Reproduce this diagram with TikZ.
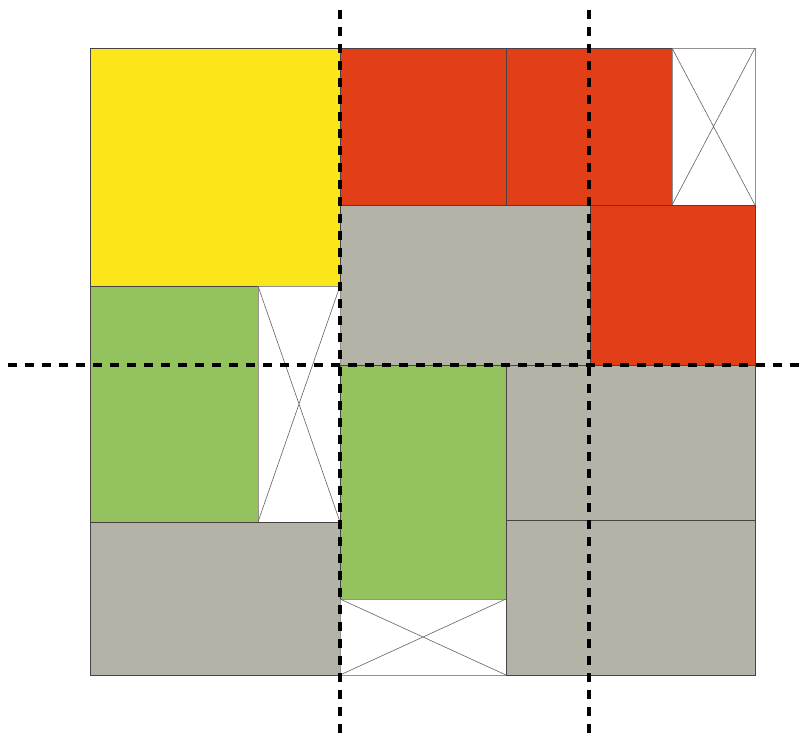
\documentclass[tikz,border=0pt]{standalone}
\definecolor{cyellow}{HTML}{FBE619}
\definecolor{cred}{HTML}{E23E18}
\definecolor{cgreen}{HTML}{93C25F}
\definecolor{cgray}{HTML}{B3B3A8}
\definecolor{cline}{HTML}{4A4242}
\definecolor{cxline}{HTML}{6A6060}
\tikzset{
  blk/.style={draw=cline, line width=0.8pt},
  xbox/.style={draw=cxline!70, line width=0.8pt, fill=white},
  xcross/.style={draw=cxline, line width=0.6pt},
  cut/.style={line width=3.5pt, dash pattern=on 9pt off 8pt, black}
}
\newcommand{\xrect}[4]{%
  \path[xbox] (#1,#2) rectangle (#3,#4);
  \draw[xcross] (#1,#2) -- (#3,#4) (#1,#4) -- (#3,#2);}
\begin{document}
\begin{tikzpicture}[x=1pt,y=-1pt]
\useasboundingbox (0,0) rectangle (806,734);
% coloured blocks
\path[blk, fill=cyellow] (90,48) rectangle (340,286);
\path[blk, fill=cred] (340,48) rectangle (506,205);
\path[blk, fill=cred] (506,48) rectangle (672,205);
\xrect{672}{48}{755}{205}
\path[blk, fill=cgray] (340,205) rectangle (590,365);
\path[blk, fill=cred] (590,205) rectangle (755,365);
\path[blk, fill=cgreen] (90,286) rectangle (258,522);
\xrect{258}{286}{340}{522}
\path[blk, fill=cgray] (90,522) rectangle (340,675);
\path[blk, fill=cgreen] (340,365) rectangle (506,599);
\xrect{340}{599}{506}{675}
\path[blk, fill=cgray] (506,365) rectangle (755,520);
\path[blk, fill=cgray] (506,520) rectangle (755,675);
% cut lines
\coordinate (v1t) at (340,10); \coordinate (v1b) at (340,734);
\coordinate (v2t) at (589,10); \coordinate (v2b) at (589,734);
\coordinate (hl) at (8,365); \coordinate (hr) at (806,365);
\draw[cut] (v1t) -- (v1b);
\draw[cut] (v2t) -- (v2b);
\draw[cut] (hl) -- (hr);
\end{tikzpicture}
\end{document}
